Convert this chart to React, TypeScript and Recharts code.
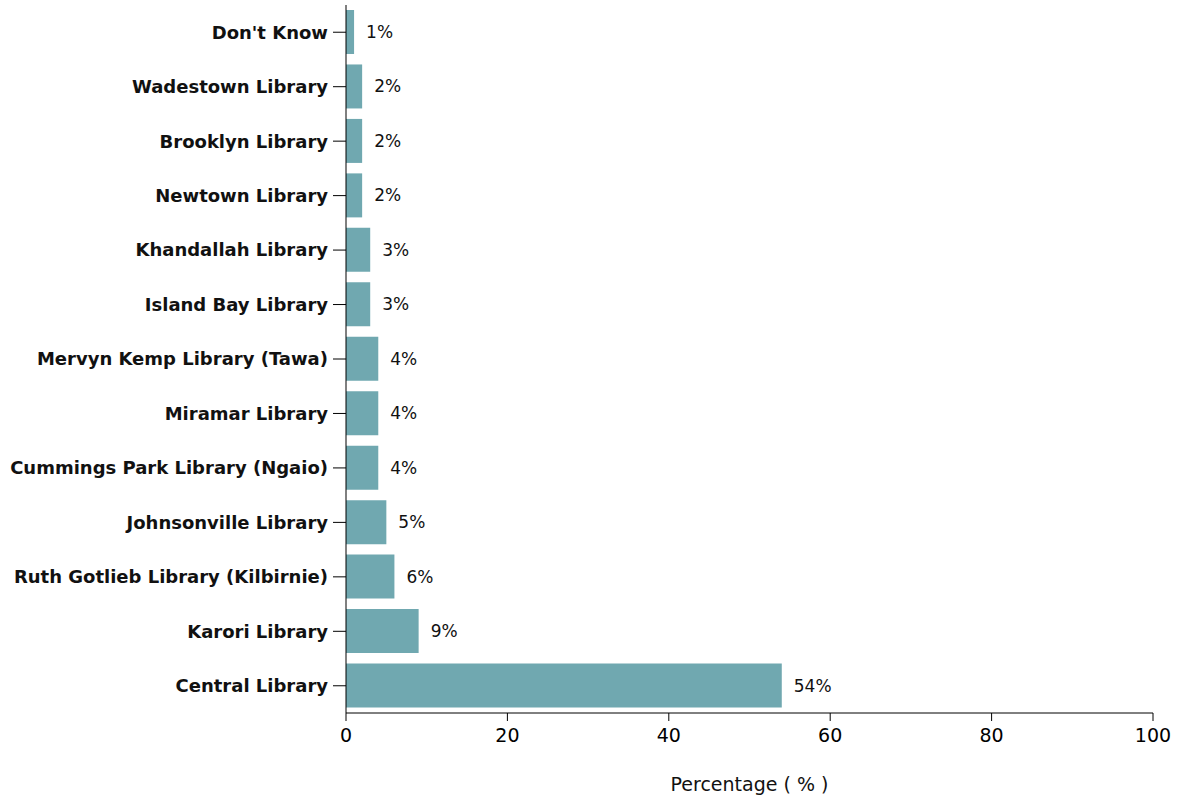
import { Bar, BarChart, LabelList, XAxis, YAxis } from "recharts";

const libraries = [
  "Don't Know",
  "Wadestown Library",
  "Brooklyn Library",
  "Newtown Library",
  "Khandallah Library",
  "Island Bay Library",
  "Mervyn Kemp Library (Tawa)",
  "Miramar Library",
  "Cummings Park Library (Ngaio)",
  "Johnsonville Library",
  "Ruth Gotlieb Library (Kilbirnie)",
  "Karori Library",
  "Central Library",
];

const percentages = [1, 2, 2, 2, 3, 3, 4, 4, 4, 5, 6, 9, 54];

const xTicks = [0, 20, 40, 60, 80, 100];

const data = libraries.map((name, i) => ({ name, value: percentages[i] }));

const font = "'DejaVu Sans', sans-serif";

export default function App() {
  return (
    <div style={{ position: "absolute", left: 0, top: 0, background: "#fff" }}>
      <BarChart
        width={1188}
        height={798}
        data={data}
        layout="vertical"
        margin={{ top: 5, right: 35, bottom: 0, left: 0 }}
        barCategoryGap={5}
      >
        <XAxis
          type="number"
          domain={[0, 100]}
          ticks={xTicks}
          height={85}
          tickSize={8}
          tickMargin={8}
          stroke="#000"
          tick={{ fill: "#000", fontSize: 19, fontFamily: font }}
          label={{
            value: "Percentage ( % )",
            position: "insideBottom",
            offset: 7,
            fill: "#111",
            fontSize: 19,
            fontFamily: font,
          }}
        />
        <YAxis
          type="category"
          dataKey="name"
          width={346}
          tickSize={13}
          tickMargin={5}
          stroke="#000"
          interval={0}
          tick={{ fill: "#111", fontSize: 18, fontWeight: "bold", fontFamily: font }}
        />
        <Bar dataKey="value" fill="#70A8B0" isAnimationActive={false}>
          <LabelList
            dataKey="value"
            position="right"
            offset={12}
            formatter={(v: number) => `${v}%`}
            style={{ fill: "#111", fontSize: 17, fontFamily: font }}
          />
        </Bar>
      </BarChart>
    </div>
  );
}
